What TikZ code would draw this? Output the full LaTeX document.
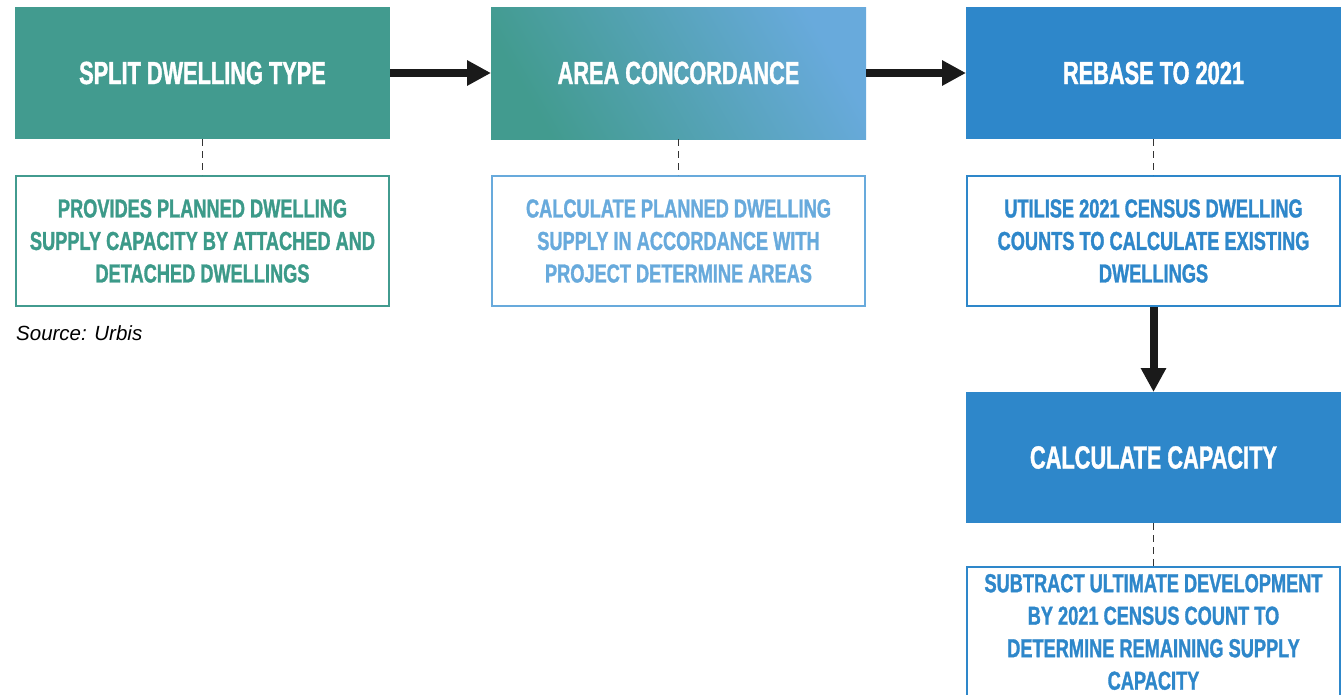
\documentclass[tikz,border=0pt]{standalone}
\usepackage{fontspec}
\setmainfont{Liberation Sans}
\newfontfamily\condh[FakeStretch=0.68,FakeBold=1.2]{Liberation Sans}
\newfontfamily\condd[FakeStretch=0.70,FakeBold=1.2]{Liberation Sans}
\usetikzlibrary{arrows.meta}
\definecolor{tealc}{HTML}{429B8F}
\definecolor{tealtxt}{HTML}{3C9A89}
\definecolor{bluec}{HTML}{2E87CA}
\definecolor{lblue}{HTML}{68AADC}
\definecolor{dashc}{HTML}{333333}
\definecolor{arrc}{HTML}{1A1A1A}
\tikzset{
  hdr/.style={minimum width=375pt, minimum height=132pt, inner sep=0pt, outer sep=0pt,
    text=white, font=\condh\bfseries\fontsize{32}{36}\selectfont},
  desctext/.style={align=center, font=\condd\bfseries\fontsize{26}{32.5}\selectfont},
  descbox/.style={desctext, draw, line width=2pt, minimum width=373pt, minimum height=130pt, inner sep=0pt, outer sep=1pt},
  flow/.style={draw=arrc, line width=8pt, -{Triangle[length=24pt,width=24pt]}},
  link/.style={draw=dashc, line width=1.4pt, dash pattern=on 7pt off 5pt},
}
\begin{document}
\begin{tikzpicture}[x=1pt,y=-1pt]
\clip (0,0) rectangle (1344,694);
\useasboundingbox (0,0) rectangle (1344,694);
% header boxes
\node[hdr, fill=tealc] (h1) at (202.5,73) {SPLIT DWELLING TYPE};
\shade[left color=tealc, right color=lblue, shading angle=120] (491,7) rectangle (866,139);
\node[hdr] (h2) at (678.5,73) {AREA CONCORDANCE};
\node[hdr, fill=bluec] (h3) at (1153.5,73) {REBASE TO 2021};
\node[hdr, fill=bluec, minimum height=131pt] (h4) at (1153.5,457.5) {CALCULATE CAPACITY};
% description boxes
\node[descbox, draw=tealc, text=tealtxt] (d1) at (202.5,241) {PROVIDES PLANNED DWELLING\\SUPPLY CAPACITY BY ATTACHED AND\\DETACHED DWELLINGS};
\node[descbox, draw=lblue, text=lblue] (d2) at (678.5,241) {CALCULATE PLANNED DWELLING\\SUPPLY IN ACCORDANCE WITH\\PROJECT DETERMINE AREAS};
\node[descbox, draw=bluec, text=bluec] (d3) at (1153.5,241) {UTILISE 2021 CENSUS DWELLING\\COUNTS TO CALCULATE EXISTING\\DWELLINGS};
\node[descbox, draw=bluec, minimum height=160pt, anchor=north] (d4) at (1153.5,566) {};
\node[desctext, text=bluec, inner sep=0pt] (t4) at (1153.5,632) {SUBTRACT ULTIMATE DEVELOPMENT\\BY 2021 CENSUS COUNT TO\\DETERMINE REMAINING SUPPLY\\CAPACITY};
% source
\node[anchor=west, inner sep=0pt, font=\itshape\fontsize{20.5}{24}\selectfont, text=black] (src) at (16,333) {Source: Urbis};
% arrows
\draw[flow] (h1.east) -- (h2.west);
\draw[flow] (h2.east) -- (h3.west);
\draw[flow] (d3.south) -- (h4.north);
% dashed links
\draw[link] (h1.south) -- (d1.north);
\draw[link] (h2.south) -- (d2.north);
\draw[link] (h3.south) -- (d3.north);
\draw[link] (h4.south) -- (d4.north);
\end{tikzpicture}
\end{document}
